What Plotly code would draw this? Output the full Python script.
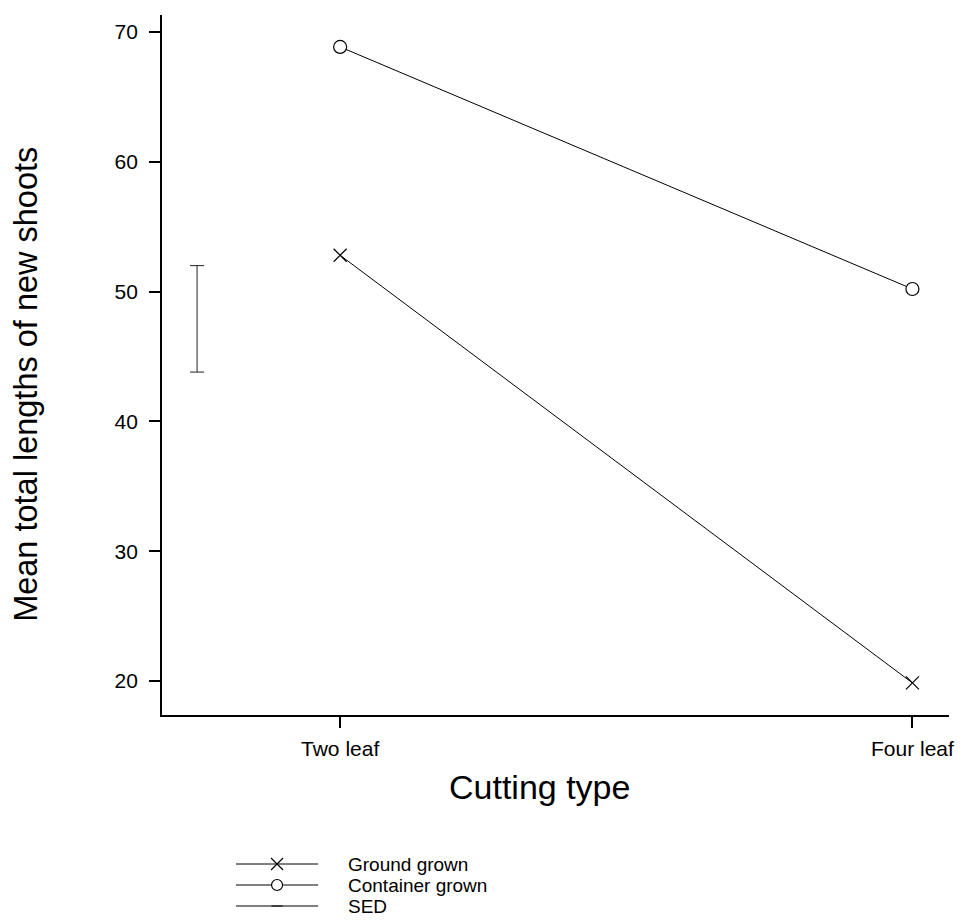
import plotly.graph_objects as go

# --- data -------------------------------------------------------------
cutting_types = ["Two leaf", "Four leaf"]
ground_grown = [52.8, 19.85]
container_grown = [68.85, 50.2]
sed_value = 8.2          # standard error of the difference
sed_centre = 47.9        # where the SED bar is drawn on the y scale
sed_position = -0.25     # x position of the SED bar (left of first category)
y_ticks = [20, 30, 40, 50, 60, 70]
legend_names = ["Ground grown", "Container grown", "SED"]

# --- page geometry (pixels) ------------------------------------------
W, H = 966, 922
PLOT_L, PLOT_R, PLOT_T, PLOT_B = 163, 954, 15, 715
KEY_TOP, KEY_ROW0, KEY_STEP = 856, 864, 21


def fx(p):
    return p / W


def fy(p):
    return 1 - p / H


FONT = "Liberation Sans, Arial, sans-serif"
BLACK = "#000000"

x_idx = list(range(len(cutting_types)))

fig = go.Figure()

fig.add_trace(go.Scatter(
    x=x_idx, y=ground_grown, mode="lines+markers", name=legend_names[0],
    line=dict(color=BLACK, width=1),
    marker=dict(symbol="x-thin-open", size=13, color=BLACK, line=dict(color=BLACK, width=1.2)),
    showlegend=False,
))
fig.add_trace(go.Scatter(
    x=x_idx, y=container_grown, mode="lines+markers", name=legend_names[1],
    line=dict(color=BLACK, width=1),
    marker=dict(symbol="circle", size=13, color="white", line=dict(color=BLACK, width=1.2)),
    showlegend=False,
))
fig.add_trace(go.Scatter(
    x=[sed_position], y=[sed_centre], mode="markers", name=legend_names[2],
    marker=dict(size=1, color="rgba(0,0,0,0)"),
    error_y=dict(type="data", array=[sed_value / 2], width=7, thickness=1, color="#222222"),
    showlegend=False,
))

# --- key drawn on its own hidden axes below the chart ----------------
legend_symbols = ["x-thin-open", "circle", "line-ew"]
legend_fill = [BLACK, "white", BLACK]
legend_sizes = [12, 11, 8]
for i, (name, sym, fill, sz) in enumerate(zip(legend_names, legend_symbols, legend_fill, legend_sizes)):
    fig.add_trace(go.Scatter(
        x=[0, 0.5, 1], y=[i, i, i], mode="lines", xaxis="x2", yaxis="y2",
        line=dict(color=BLACK, width=1), showlegend=False, hoverinfo="skip",
    ))
    fig.add_trace(go.Scatter(
        x=[0.5], y=[i], mode="markers", xaxis="x2", yaxis="y2",
        marker=dict(symbol=sym, size=sz, color=fill, line=dict(color=BLACK, width=1.2)),
        showlegend=False, hoverinfo="skip",
    ))
    fig.add_annotation(
        x=fx(348), xref="paper", y=i, yref="y2", text=name, showarrow=False,
        xanchor="left", yanchor="middle", font=dict(family=FONT, size=19, color=BLACK),
    )

axis_common = dict(
    showline=True, linewidth=2, linecolor=BLACK, ticks="outside", ticklen=11,
    tickwidth=2, tickcolor=BLACK, showgrid=False, zeroline=False,
    tickfont=dict(family=FONT, size=21, color=BLACK),
)

key_bottom = (H - KEY_ROW0) / KEY_STEP
key_top = -(KEY_ROW0 - KEY_TOP) / KEY_STEP

fig.update_layout(
    width=W, height=H, autosize=False,
    margin=dict(l=0, r=0, t=0, b=0),
    paper_bgcolor="white", plot_bgcolor="white",
    xaxis=dict(
        domain=[fx(PLOT_L), fx(PLOT_R)], anchor="y",
        range=[-0.311, 1.064], tickvals=x_idx, ticktext=cutting_types,
        ticklabelstandoff=3, **axis_common,
    ),
    yaxis=dict(
        domain=[fy(PLOT_B), fy(PLOT_T)], anchor="x",
        range=[17.38, 71.31], tickvals=y_ticks,
        ticklabelstandoff=7, **axis_common,
    ),
    xaxis2=dict(domain=[fx(237), fx(320)], anchor="y2", range=[0, 1], visible=False),
    yaxis2=dict(domain=[0, fy(KEY_TOP)], anchor="x2", range=[key_bottom, key_top], visible=False),
    showlegend=False,
)

fig.add_annotation(
    x=fx(542), y=fy(787), xref="paper", yref="paper", text="Cutting type",
    showarrow=False, xanchor="center", yanchor="middle",
    font=dict(family=FONT, size=34, color=BLACK),
)
fig.add_annotation(
    x=fx(26), y=fy(384), xref="paper", yref="paper",
    text="Mean total lengths of new shoots", textangle=-90,
    showarrow=False, xanchor="center", yanchor="middle",
    font=dict(family=FONT, size=32.5, color=BLACK),
)

fig.write_html("out.html")
